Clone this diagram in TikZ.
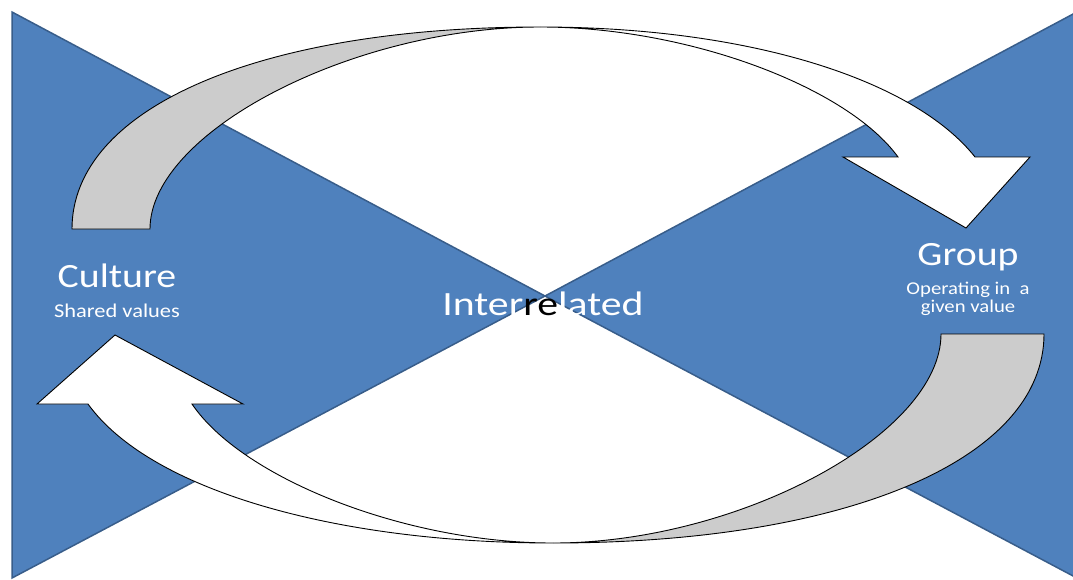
\documentclass[tikz,border=0pt]{standalone}
\usepackage{fontspec}
\setmainfont{Carlito}
\usepackage{xcolor}
\definecolor{triblue}{HTML}{4F81BD}
\definecolor{triedge}{HTML}{385D8A}
\definecolor{bandgray}{HTML}{CCCCCC}

\begin{document}
\begin{tikzpicture}[x=1pt, y=-1pt,
    wedge/.style={fill=triblue, draw=triedge, line width=1.5pt, line join=miter},
    band/.style={draw=black, line width=0.9pt, line join=miter},
    bigtext/.style={text=white, anchor=base, xscale=1.17, font=\fontsize{34}{40}\selectfont},
    subtext/.style={text=white, anchor=base, xscale=1.15, font=\fontsize{18}{20}\selectfont}]
    \useasboundingbox (0,0) rectangle (1073,579);

    % Triangles
    \draw[wedge] (12,12) -- (545,296) -- (12,578) -- cycle;
    \draw[wedge] (1075,13) -- (545,296) -- (1075,577) -- cycle;

    % Upper arrow (gray back, white front)
    \draw[band, fill=bandgray] (72,229) .. controls (72,108) and (259,27) .. (540,27)
        .. controls (353,27) and (150,132) .. (150,229) -- cycle;
    \draw[band, fill=white] (540,27) .. controls (750,27) and (914,80) .. (975,157)
        -- (1030,157) -- (966,228) -- (843,157) -- (898,157)
        .. controls (848,88) and (690,27) .. (540,27) -- cycle;

    % Lower arrow (gray back, white front)
    \draw[band, fill=bandgray] (1044,334) .. controls (1044,459) and (848,543) .. (553,543)
        .. controls (739,543) and (941,434) .. (941,334) -- cycle;
    \draw[band, fill=white] (553,543) .. controls (335,543) and (150,490) .. (88,404)
        -- (37,404) -- (115,335) -- (243,404) -- (192,404)
        .. controls (242,478) and (405,543) .. (553,543) -- cycle;

    % Labels
    \node[bigtext] (culture) at (117,287) {Culture};
    \node[subtext, font=\fontsize{19.5}{22}\selectfont] (shared) at (117,317) {Shared values};
    \node[bigtext] (group) at (968,265) {Group};
    \node[subtext] (operating) at (968,294) {Operating in \ a};
    \node[subtext] (given) at (968,312) {given value};
    \node[bigtext, xscale=1.05] (inter) at (543,315) {Inter\textcolor{black}{re}lated};
\end{tikzpicture}
\end{document}
